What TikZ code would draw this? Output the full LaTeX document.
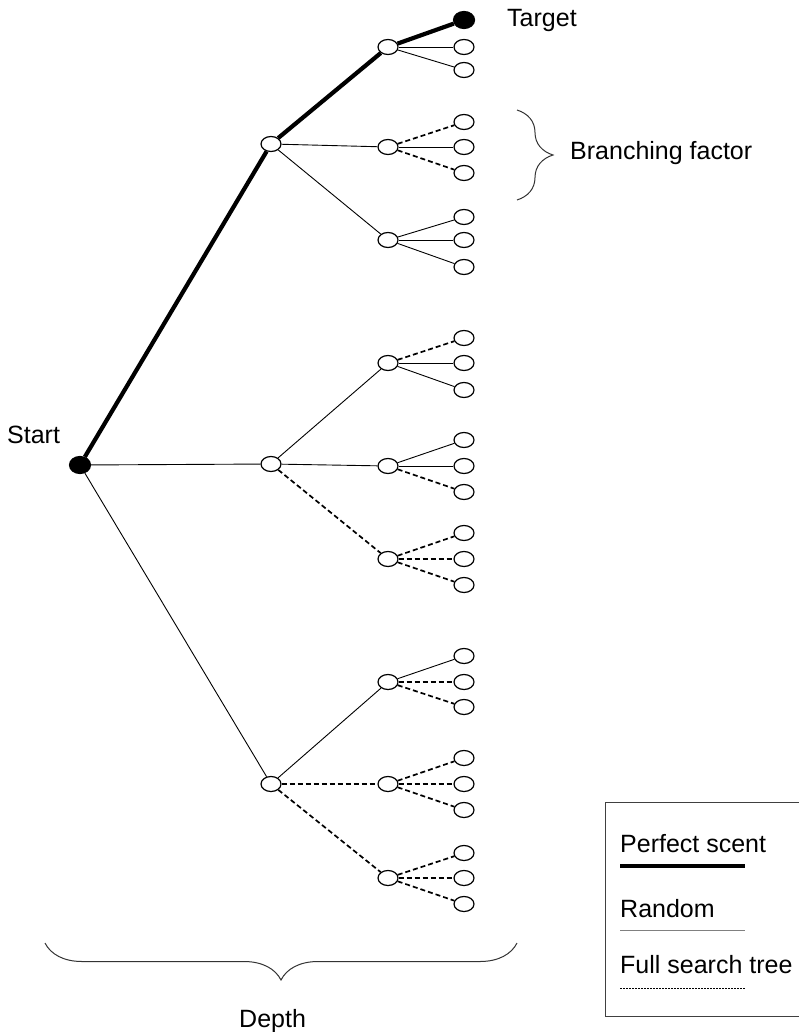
\documentclass[tikz,border=0pt]{standalone}
\usepackage{fontspec}
\setmainfont{Liberation Sans}
\usetikzlibrary{shapes.geometric,decorations.pathreplacing}
\begin{document}
\begin{tikzpicture}[x=1pt,y=-1pt,
    dot/.style={ellipse,draw,line width=1.2pt,fill=white,minimum width=20pt,minimum height=15pt,inner sep=0pt},
    goal/.style={dot,fill=black,minimum width=21pt,minimum height=17pt},
    perfect/.style={line width=4.2pt},
    random/.style={line width=0.9pt},
    full/.style={line width=1.7pt,dash pattern=on 5pt off 3pt},
    lbl/.style={anchor=base west,inner sep=0pt,font=\fontsize{25}{30}\selectfont},
    bracebar/.style={decorate,line width=1pt,draw=black!80}]
  \useasboundingbox (0,0) rectangle (799,1032);
  % depth 0 and 1
  \node[goal] (s) at (80,465) {};
  \node[dot] (a) at (271,144) {};
  \node[dot] (b) at (271,464) {};
  \node[dot] (c) at (271,784) {};
  % depth 2
  \node[dot] (aa) at (388,47) {};
  \node[dot] (ab) at (388,147) {};
  \node[dot] (ac) at (388,240) {};
  \node[dot] (ba) at (388,363) {};
  \node[dot] (bb) at (388,466) {};
  \node[dot] (bc) at (388,559) {};
  \node[dot] (ca) at (388,682) {};
  \node[dot] (cb) at (388,784) {};
  \node[dot] (cc) at (388,878) {};
  % depth 3
  \node[goal] (aa1) at (464,20) {};
  \node[dot] (aa2) at (464,47) {};
  \node[dot] (aa3) at (464,70) {};
  \node[dot] (ab1) at (464,122) {};
  \node[dot] (ab2) at (464,147) {};
  \node[dot] (ab3) at (464,173) {};
  \node[dot] (ac1) at (464,217) {};
  \node[dot] (ac2) at (464,240) {};
  \node[dot] (ac3) at (464,267) {};
  \node[dot] (ba1) at (464,338) {};
  \node[dot] (ba2) at (464,363) {};
  \node[dot] (ba3) at (464,390) {};
  \node[dot] (bb1) at (464,440) {};
  \node[dot] (bb2) at (464,466) {};
  \node[dot] (bb3) at (464,492) {};
  \node[dot] (bc1) at (464,533) {};
  \node[dot] (bc2) at (464,559) {};
  \node[dot] (bc3) at (464,585) {};
  \node[dot] (ca1) at (464,656) {};
  \node[dot] (ca2) at (464,682) {};
  \node[dot] (ca3) at (464,707) {};
  \node[dot] (cb1) at (464,758) {};
  \node[dot] (cb2) at (464,784) {};
  \node[dot] (cb3) at (464,810) {};
  \node[dot] (cc1) at (464,853) {};
  \node[dot] (cc2) at (464,878) {};
  \node[dot] (cc3) at (464,904) {};
  % edges
  \draw[perfect] (s) -- (a);
  \draw[random] (s) -- (b);
  \draw[random] (s) -- (c);
  \draw[perfect] (a) -- (aa);
  \draw[random] (a) -- (ab);
  \draw[random] (a) -- (ac);
  \draw[random] (b) -- (ba);
  \draw[random] (b) -- (bb);
  \draw[full] (b) -- (bc);
  \draw[random] (c) -- (ca);
  \draw[full] (c) -- (cb);
  \draw[full] (c) -- (cc);
  \draw[perfect] (aa) -- (aa1);
  \draw[random] (aa) -- (aa2);
  \draw[random] (aa) -- (aa3);
  \draw[full] (ab) -- (ab1);
  \draw[random] (ab) -- (ab2);
  \draw[full] (ab) -- (ab3);
  \draw[random] (ac) -- (ac1);
  \draw[random] (ac) -- (ac2);
  \draw[random] (ac) -- (ac3);
  \draw[full] (ba) -- (ba1);
  \draw[random] (ba) -- (ba2);
  \draw[random] (ba) -- (ba3);
  \draw[random] (bb) -- (bb1);
  \draw[random] (bb) -- (bb2);
  \draw[full] (bb) -- (bb3);
  \draw[full] (bc) -- (bc1);
  \draw[full] (bc) -- (bc2);
  \draw[full] (bc) -- (bc3);
  \draw[random] (ca) -- (ca1);
  \draw[full] (ca) -- (ca2);
  \draw[full] (ca) -- (ca3);
  \draw[full] (cb) -- (cb1);
  \draw[full] (cb) -- (cb2);
  \draw[full] (cb) -- (cb3);
  \draw[full] (cc) -- (cc1);
  \draw[full] (cc) -- (cc2);
  \draw[full] (cc) -- (cc3);
  % labels
  \node[lbl] (target) at (507,27) {Target};
  \node[lbl] (start) at (7,443) {Start};
  \node[lbl] (branch) at (570,160) {Branching factor};
  \node[lbl] (depth) at (239,1027) {Depth};
  \draw[bracebar,decoration={brace,amplitude=36pt}] (517,110) -- (517,200);
  \draw[bracebar,decoration={brace,amplitude=37pt}] (517,943) -- (45,943);
  % legend
  \draw[line width=1pt,draw=black!75] (799,802) -| (605,1016) -- (799,1016);
  \node[lbl] (key1) at (620,852) {Perfect scent};
  \node[lbl] (key2) at (620,917) {Random};
  \node[lbl] (key3) at (620,973) {Full search tree};
  \draw[line width=4.2pt] (620,866) -- (745,866);
  \draw[line width=1pt,draw=black!50] (620,930) -- (745,930);
  \draw[line width=0.8pt,dash pattern=on 2pt off 1pt] (620,988) -- (745,988);
\end{tikzpicture}
\end{document}
